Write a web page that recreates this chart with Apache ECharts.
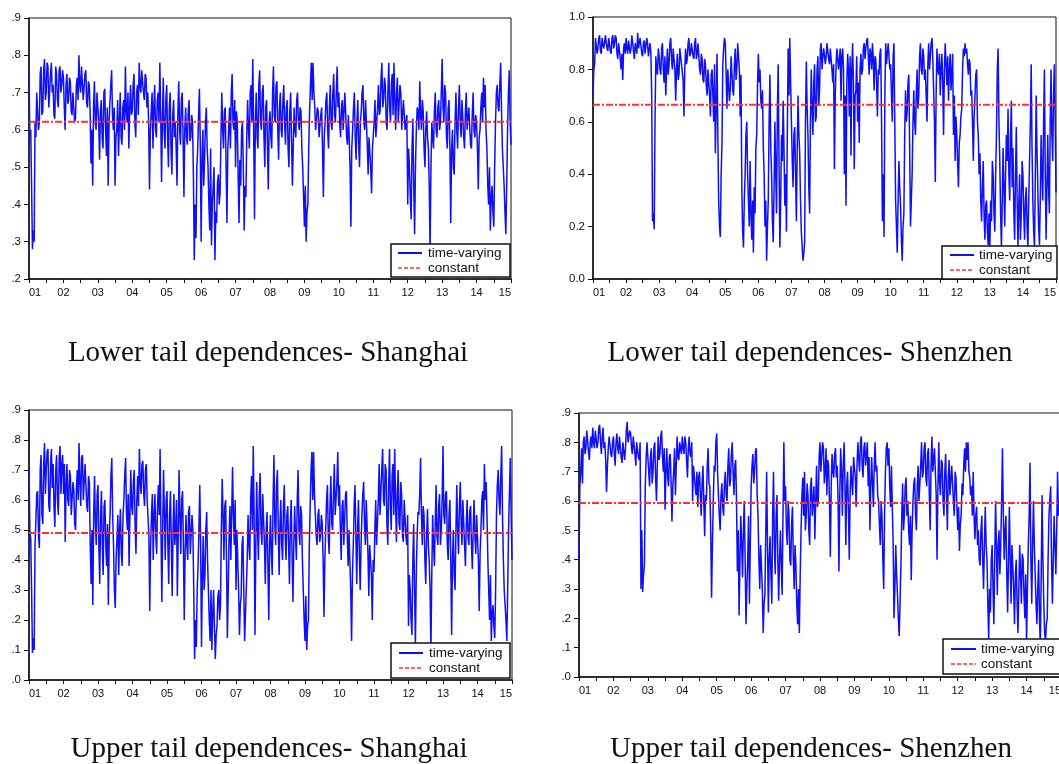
<!DOCTYPE html>
<html><head><meta charset="utf-8">
<script src="https://cdn.jsdelivr.net/npm/echarts@6/dist/echarts.min.js"></script>
<style>html,body{margin:0;padding:0;background:#fff}#c{width:1059px;height:764px}</style>
</head><body><div id="c"></div>
<script>
// time axis: values are sampled 40 times per year from 2001.0 to 2015.0
const startYear = 2001, endYear = 2015, perYear = 40;

const lowerShanghai = [
 .75,.58,.60,.45,.28,.33,.30,.62,.58,.70,.70,.60,.62,.75,.77,.64,.65,.76,.79,.68,
 .70,.78,.77,.66,.66,.75,.78,.70,.72,.64,.63,.77,.75,.68,.66,.76,.77,.70,.72,.76,
 .74,.66,.60,.72,.75,.67,.68,.74,.73,.65,.64,.70,.70,.62,.63,.72,.74,.68,.80,.72,
 .70,.77,.77,.68,.68,.75,.76,.67,.66,.73,.72,.65,.51,.60,.45,.66,.73,.62,.60,.70,
 .70,.62,.52,.65,.68,.58,.55,.70,.71,.60,.53,.66,.45,.62,.62,.72,.76,.64,.60,.66,
 .45,.58,.60,.68,.53,.62,.70,.58,.56,.66,.68,.60,.77,.65,.62,.70,.55,.66,.72,.64,
 .65,.72,.75,.62,.58,.70,.72,.64,.78,.72,.70,.76,.76,.70,.68,.75,.74,.66,.70,.62,
 .44,.60,.65,.70,.55,.66,.72,.60,.58,.68,.70,.62,.78,.64,.46,.62,.74,.60,.55,.68,
 .72,.58,.50,.66,.70,.55,.48,.64,.68,.58,.62,.55,.45,.65,.73,.60,.56,.68,.70,.58,
 .42,.60,.66,.58,.56,.65,.68,.57,.58,.64,.62,.48,.25,.40,.31,.50,.55,.64,.71,.56,
 .30,.52,.60,.45,.52,.62,.66,.55,.50,.40,.33,.55,.29,.40,.45,.50,.25,.38,.35,.46,
 .48,.40,.43,.58,.70,.60,.55,.65,.66,.50,.35,.55,.60,.66,.55,.70,.75,.62,.60,.68,
 .50,.65,.62,.48,.35,.52,.45,.60,.62,.50,.33,.45,.42,.58,.68,.60,.55,.70,.72,.62,
 .79,.60,.36,.62,.70,.58,.55,.72,.76,.62,.60,.70,.72,.58,.50,.66,.68,.56,.44,.62,
 .65,.58,.55,.70,.77,.64,.62,.72,.73,.60,.52,.66,.70,.60,.58,.68,.72,.62,.56,.66,
 .68,.55,.50,.65,.70,.58,.45,.55,.66,.60,.58,.68,.70,.62,.60,.66,.65,.55,.50,.42,
 .34,.45,.30,.38,.40,.55,.65,.72,.78,.68,.78,.70,.66,.60,.60,.66,.65,.58,.58,.64,
 .66,.55,.42,.58,.62,.68,.70,.60,.55,.66,.72,.62,.60,.70,.75,.64,.62,.70,.77,.66,
 .70,.62,.58,.66,.68,.60,.60,.70,.70,.58,.56,.64,.58,.50,.34,.55,.60,.66,.70,.58,
 .52,.62,.68,.56,.50,.62,.65,.70,.72,.62,.60,.68,.68,.56,.48,.58,.58,.50,.43,.55,
 .55,.62,.68,.58,.58,.66,.72,.64,.65,.74,.78,.66,.68,.74,.72,.62,.60,.70,.78,.66,
 .62,.72,.75,.64,.78,.68,.60,.70,.74,.62,.62,.72,.70,.60,.60,.68,.68,.60,.60,.64,
 .40,.55,.50,.42,.36,.55,.63,.45,.32,.50,.60,.66,.65,.60,.73,.64,.60,.68,.65,.55,
 .50,.60,.65,.58,.55,.45,.28,.50,.62,.58,.55,.65,.70,.60,.58,.66,.68,.60,.62,.70,
 .79,.66,.62,.72,.70,.58,.55,.66,.68,.55,.35,.55,.60,.50,.48,.62,.70,.60,.55,.66,
 .72,.62,.58,.68,.68,.58,.55,.65,.70,.60,.60,.66,.66,.56,.55,.64,.70,.60,.58,.64,
 .62,.55,.44,.58,.60,.66,.70,.62,.74,.66,.72,.60,.55,.45,.40,.50,.33,.42,.45,.38,
 .34,.50,.62,.70,.72,.66,.65,.72,.78,.65,.55,.50,.45,.38,.32,.45,.60,.70,.76,.62,
 .56
];
const lowerShenzhen = [
 .70,.80,.82,.92,.92,.86,.88,.92,.93,.87,.86,.92,.92,.88,.90,.93,.93,.88,.87,.92,
 .92,.87,.86,.92,.93,.88,.90,.93,.92,.86,.84,.90,.90,.84,.80,.86,.76,.88,.90,.86,
 .92,.88,.86,.91,.91,.86,.88,.93,.93,.87,.84,.90,.90,.86,.94,.88,.88,.92,.92,.86,
 .85,.90,.91,.86,.86,.92,.90,.85,.85,.90,.86,.70,.22,.25,.19,.60,.85,.80,.78,.88,
 .85,.80,.78,.88,.90,.80,.75,.85,.70,.80,.88,.78,.82,.90,.92,.84,.80,.88,.88,.80,
 .68,.80,.86,.76,.78,.88,.88,.82,.82,.76,.62,.80,.88,.82,.84,.90,.92,.85,.86,.90,
 .90,.85,.84,.90,.92,.84,.86,.90,.90,.80,.78,.86,.84,.76,.75,.84,.82,.74,.70,.80,
 .80,.70,.62,.78,.80,.70,.60,.82,.48,.65,.86,.55,.30,.20,.16,.40,.52,.82,.88,.92,
 .90,.78,.65,.80,.80,.68,.72,.85,.85,.72,.70,.82,.88,.76,.80,.90,.90,.80,.62,.78,
 .35,.18,.12,.30,.40,.55,.60,.40,.30,.20,.45,.25,.15,.30,.10,.35,.25,.50,.55,.74,
 .86,.75,.80,.68,.65,.72,.50,.40,.20,.30,.07,.20,.30,.60,.78,.50,.40,.22,.14,.35,
 .60,.40,.25,.65,.82,.45,.12,.30,.55,.45,.68,.50,.28,.40,.18,.55,.88,.70,.92,.75,
 .60,.45,.35,.55,.58,.40,.22,.50,.70,.55,.48,.30,.18,.12,.07,.10,.14,.60,.83,.65,
 .55,.35,.25,.60,.80,.65,.55,.75,.82,.60,.62,.80,.85,.66,.72,.88,.90,.80,.85,.88,
 .88,.82,.85,.90,.90,.84,.82,.88,.88,.80,.75,.82,.42,.70,.82,.88,.88,.80,.84,.88,
 .68,.85,.88,.80,.40,.70,.28,.75,.86,.80,.62,.85,.47,.80,.90,.75,.42,.70,.72,.85,
 .60,.75,.52,.80,.86,.78,.80,.88,.90,.84,.88,.91,.92,.85,.78,.88,.86,.80,.90,.84,
 .72,.85,.84,.75,.62,.80,.78,.86,.88,.60,.22,.40,.16,.70,.90,.82,.82,.90,.90,.80,
 .82,.70,.60,.85,.90,.60,.30,.20,.10,.30,.45,.35,.28,.15,.07,.20,.25,.55,.72,.60,
 .64,.75,.78,.50,.20,.30,.40,.60,.72,.60,.55,.70,.80,.65,.70,.85,.90,.80,.78,.88,
 .85,.76,.80,.70,.60,.82,.90,.80,.85,.90,.92,.84,.72,.60,.37,.70,.88,.80,.78,.86,
 .70,.80,.86,.75,.55,.80,.90,.82,.74,.85,.68,.80,.86,.72,.78,.86,.55,.70,.45,.62,
 .55,.45,.35,.52,.55,.62,.65,.80,.88,.85,.90,.86,.88,.82,.78,.84,.82,.70,.72,.60,
 .45,.62,.70,.78,.80,.60,.55,.40,.48,.30,.22,.35,.45,.25,.15,.28,.30,.18,.13,.25,
 .12,.30,.22,.45,.40,.25,.18,.40,.55,.80,.88,.60,.45,.25,.12,.30,.50,.35,.20,.40,
 .55,.45,.65,.40,.30,.55,.68,.35,.50,.25,.15,.40,.58,.30,.12,.28,.40,.15,.25,.45,
 .40,.25,.15,.30,.35,.20,.12,.30,.45,.60,.82,.50,.30,.18,.12,.40,.70,.50,.35,.20,
 .13,.30,.55,.40,.30,.60,.80,.40,.15,.35,.55,.35,.25,.60,.80,.55,.45,.70,.82,.60,
 .33
];
const upperShanghai = [
 .71,.50,.47,.30,.09,.14,.10,.45,.45,.62,.63,.48,.44,.70,.75,.55,.52,.72,.79,.62,
 .70,.76,.77,.58,.56,.72,.77,.64,.72,.58,.51,.70,.75,.60,.55,.74,.78,.62,.72,.75,
 .62,.72,.46,.65,.72,.60,.58,.70,.68,.55,.55,.66,.63,.52,.50,.64,.70,.60,.79,.66,
 .58,.74,.75,.60,.60,.72,.72,.58,.56,.68,.66,.45,.32,.50,.25,.55,.68,.52,.45,.62,
 .65,.45,.32,.55,.63,.45,.35,.58,.60,.45,.38,.52,.25,.48,.55,.68,.74,.55,.45,.30,
 .24,.40,.47,.55,.35,.50,.57,.42,.38,.55,.60,.68,.74,.56,.50,.62,.38,.55,.70,.58,
 .55,.66,.70,.52,.42,.60,.68,.58,.77,.66,.62,.72,.73,.62,.58,.70,.72,.60,.60,.48,
 .23,.45,.55,.62,.40,.55,.62,.48,.42,.58,.65,.55,.77,.50,.26,.50,.70,.55,.40,.60,
 .63,.45,.32,.55,.63,.45,.28,.50,.62,.45,.50,.60,.28,.48,.70,.55,.42,.60,.63,.45,
 .20,.42,.55,.45,.40,.56,.58,.42,.42,.55,.50,.30,.07,.20,.11,.30,.38,.50,.65,.45,
 .11,.35,.48,.30,.35,.50,.56,.40,.30,.20,.13,.30,.10,.22,.30,.18,.07,.15,.18,.28,
 .30,.20,.25,.50,.67,.55,.40,.58,.60,.40,.14,.30,.48,.58,.40,.55,.71,.55,.45,.60,
 .30,.50,.50,.30,.15,.25,.28,.45,.48,.30,.13,.22,.22,.40,.55,.45,.40,.60,.68,.50,
 .78,.55,.15,.45,.66,.50,.40,.62,.69,.50,.45,.62,.62,.45,.32,.50,.56,.38,.20,.45,
 .55,.42,.35,.60,.75,.52,.45,.65,.70,.50,.35,.52,.60,.45,.40,.58,.65,.48,.40,.55,
 .58,.45,.32,.52,.60,.42,.26,.45,.58,.48,.40,.60,.70,.50,.45,.58,.55,.40,.30,.20,
 .13,.28,.10,.18,.20,.45,.58,.70,.76,.60,.76,.62,.55,.48,.45,.55,.57,.46,.48,.55,
 .52,.40,.21,.40,.50,.60,.65,.48,.42,.58,.68,.52,.50,.62,.72,.55,.55,.66,.76,.58,
 .65,.50,.40,.58,.60,.45,.45,.62,.63,.48,.38,.50,.40,.30,.13,.35,.45,.58,.65,.48,
 .32,.50,.60,.42,.30,.45,.55,.62,.66,.52,.45,.60,.60,.42,.28,.45,.45,.35,.20,.40,
 .36,.50,.60,.45,.45,.60,.72,.55,.55,.70,.77,.60,.58,.72,.70,.52,.45,.65,.77,.58,
 .50,.68,.72,.55,.77,.60,.46,.62,.70,.52,.50,.66,.62,.48,.46,.60,.60,.48,.45,.55,
 .18,.35,.30,.20,.15,.40,.52,.30,.12,.35,.48,.56,.55,.62,.74,.55,.45,.58,.55,.40,
 .32,.48,.57,.45,.40,.30,.10,.35,.55,.45,.38,.52,.65,.48,.45,.58,.62,.45,.50,.60,
 .78,.55,.52,.62,.63,.45,.40,.55,.60,.40,.15,.40,.50,.35,.30,.50,.65,.50,.42,.58,
 .66,.52,.45,.60,.60,.45,.38,.52,.60,.48,.45,.56,.58,.45,.37,.50,.60,.48,.42,.55,
 .55,.40,.23,.42,.50,.60,.63,.50,.72,.60,.66,.55,.40,.30,.20,.35,.13,.22,.25,.18,
 .14,.30,.55,.65,.70,.60,.55,.68,.78,.55,.40,.30,.30,.20,.13,.30,.50,.62,.74,.55,
 .40
];
const upperShenzhen = [
 .40,.65,.70,.78,.66,.80,.82,.76,.78,.84,.84,.77,.74,.80,.82,.78,.85,.80,.78,.84,
 .84,.78,.80,.85,.86,.80,.76,.82,.85,.78,.80,.74,.63,.72,.78,.82,.82,.76,.75,.80,
 .82,.76,.72,.80,.83,.78,.76,.82,.82,.75,.73,.80,.80,.74,.78,.84,.87,.80,.80,.84,
 .83,.78,.76,.82,.82,.76,.72,.80,.80,.75,.74,.80,.30,.50,.29,.35,.38,.65,.75,.80,
 .80,.70,.65,.75,.78,.66,.70,.78,.80,.68,.60,.72,.82,.74,.76,.82,.84,.75,.70,.78,
 .57,.70,.78,.68,.65,.75,.76,.66,.53,.65,.70,.78,.62,.72,.82,.75,.74,.80,.80,.76,
 .82,.78,.76,.82,.80,.74,.68,.78,.82,.76,.75,.80,.60,.72,.72,.65,.62,.70,.58,.68,
 .70,.62,.55,.66,.72,.60,.48,.62,.60,.72,.78,.66,.65,.50,.27,.45,.60,.72,.70,.80,
 .83,.70,.62,.55,.50,.62,.66,.58,.55,.66,.70,.62,.60,.72,.78,.65,.67,.76,.80,.70,
 .62,.72,.74,.60,.36,.50,.21,.40,.55,.45,.34,.50,.60,.40,.18,.30,.40,.55,.25,.45,
 .65,.72,.76,.66,.70,.77,.78,.62,.55,.40,.30,.45,.45,.30,.15,.25,.28,.50,.70,.45,
 .22,.40,.48,.35,.25,.55,.70,.45,.35,.55,.62,.40,.26,.40,.50,.38,.28,.55,.80,.60,
 .65,.50,.45,.60,.55,.40,.38,.52,.58,.40,.30,.45,.38,.25,.18,.30,.15,.35,.50,.62,
 .68,.55,.70,.50,.55,.66,.62,.50,.45,.65,.68,.55,.55,.65,.47,.60,.72,.58,.60,.75,
 .80,.70,.75,.80,.78,.66,.70,.78,.62,.74,.72,.60,.41,.65,.76,.70,.68,.76,.78,.68,
 .72,.60,.36,.62,.78,.70,.55,.72,.80,.66,.45,.65,.70,.58,.40,.62,.72,.66,.62,.75,
 .75,.68,.58,.72,.80,.74,.70,.80,.82,.72,.68,.78,.80,.72,.72,.80,.65,.75,.50,.65,
 .75,.66,.58,.72,.80,.70,.72,.62,.60,.52,.45,.60,.55,.40,.30,.55,.70,.78,.80,.72,
 .78,.65,.58,.72,.72,.45,.20,.30,.45,.35,.28,.20,.14,.25,.38,.55,.66,.50,.55,.65,
 .68,.55,.60,.50,.45,.55,.33,.50,.60,.66,.68,.55,.50,.65,.72,.60,.60,.72,.80,.68,
 .70,.78,.80,.68,.65,.76,.78,.62,.50,.72,.82,.70,.70,.78,.78,.62,.40,.65,.80,.66,
 .62,.74,.73,.60,.55,.70,.76,.62,.50,.68,.74,.62,.62,.72,.72,.60,.55,.70,.68,.58,
 .50,.58,.43,.52,.55,.66,.62,.72,.78,.70,.80,.74,.80,.70,.68,.62,.65,.55,.70,.55,
 .47,.55,.58,.45,.50,.40,.38,.50,.55,.40,.30,.45,.58,.45,.40,.25,.13,.30,.22,.40,
 .45,.30,.18,.40,.60,.45,.28,.45,.50,.35,.45,.60,.78,.55,.40,.50,.55,.35,.22,.40,
 .58,.40,.25,.45,.45,.30,.18,.35,.40,.25,.15,.30,.45,.35,.25,.42,.40,.28,.20,.35,
 .12,.30,.45,.55,.73,.40,.25,.45,.60,.45,.35,.25,.18,.30,.40,.20,.10,.35,.62,.40,
 .25,.15,.12,.18,.20,.40,.55,.60,.65,.40,.25,.40,.55,.45,.35,.50,.70,.55,.60,.50,
 .65
];

const constLowerShanghai = 0.622;
const constLowerShenzhen = 0.665;
const constUpperShanghai = 0.490;
const constUpperShenzhen = 0.593;

const titleTexts = [
 'Lower tail dependences- Shanghai',
 'Lower tail dependences- Shenzhen',
 'Upper tail dependences- Shanghai',
 'Upper tail dependences- Shenzhen'
];
const legendNames = ['time-varying', 'constant'];

const panels = [
 {data: lowerShanghai, c: constLowerShanghai, grid: {left: 29, top: 18, width: 482, height: 261},
  y: [0.2, 0.9, 0.1], fmt: v => v.toFixed(1).replace(/^0/, ''),
  legend: {box: [391, 244, 119, 33], line: [398, 422], text: 428, rows: [253, 268]}, title: [268, 353]},
 {data: lowerShenzhen, c: constLowerShenzhen, grid: {left: 593, top: 17, width: 463, height: 262},
  y: [0, 1.0, 0.2], fmt: v => v.toFixed(1),
  legend: {box: [942, 246, 115, 33], line: [950, 974], text: 979, rows: [255, 270]}, title: [810, 353]},
 {data: upperShanghai, c: constUpperShanghai, grid: {left: 29, top: 410, width: 483, height: 270},
  y: [0, 0.9, 0.1], fmt: v => v.toFixed(1).replace(/^0/, ''),
  legend: {box: [391, 643, 119, 35], line: [399, 423], text: 429, rows: [653, 668]}, title: [269, 749]},
 {data: upperShenzhen, c: constUpperShenzhen, grid: {left: 579, top: 413, width: 482, height: 264},
  y: [0, 0.9, 0.1], fmt: v => v.toFixed(1).replace(/^0/, ''),
  legend: {box: [943, 639, 125, 35], line: [951, 976], text: 981, rows: [649, 664]}, title: [811, 749]}
];

const blue = '#1010f5', red = '#ff3030';
const axisFont = {fontFamily: 'Arial, "Liberation Sans", sans-serif', fontSize: 11, color: '#111'};
const legendFont = '13.5px Arial, "Liberation Sans", sans-serif';

function legendGraphic(p) {
  const L = p.legend;
  return [
    {type: 'rect', z: 100, shape: {x: L.box[0], y: L.box[1], width: L.box[2], height: L.box[3]},
     style: {fill: '#fff', stroke: '#111', lineWidth: 1.5}},
    {type: 'line', z: 101, shape: {x1: L.line[0], y1: L.rows[0], x2: L.line[1], y2: L.rows[0]},
     style: {stroke: blue, lineWidth: 2}},
    {type: 'line', z: 101, shape: {x1: L.line[0], y1: L.rows[1], x2: L.line[1], y2: L.rows[1]},
     style: {stroke: red, lineWidth: 1.5, lineDash: [4, 2]}},
    {type: 'text', z: 101, x: L.text, y: L.rows[0],
     style: {text: legendNames[0], font: legendFont, fill: '#111', textVerticalAlign: 'middle'}},
    {type: 'text', z: 101, x: L.text, y: L.rows[1],
     style: {text: legendNames[1], font: legendFont, fill: '#111', textVerticalAlign: 'middle'}}
  ];
}

const option = {
  animation: false,
  backgroundColor: '#fff',
  grid: panels.map(p => Object.assign({show: true, borderColor: '#111', borderWidth: 1,
    backgroundColor: '#fff', containLabel: false, outerBoundsMode: 'none'}, p.grid)),
  xAxis: panels.map((p, i) => ({
    type: 'value', gridIndex: i, min: startYear, max: endYear, interval: 0.5,
    axisLine: {lineStyle: {color: '#111', width: 1.5}},
    axisTick: {show: true, length: 4, lineStyle: {color: '#111', width: 1}},
    splitLine: {show: false},
    axisLabel: Object.assign({margin: 8, showMinLabel: true, showMaxLabel: true,
      alignMinLabel: 'left', alignMaxLabel: 'right', hideOverlap: false,
      formatter: v => Math.abs(v - Math.round(v)) < 1e-6 ? String(Math.round(v) % 100).padStart(2, '0') : ''}, axisFont)
  })),
  yAxis: panels.map((p, i) => ({
    type: 'value', gridIndex: i, min: p.y[0], max: p.y[1], interval: p.y[2],
    axisLine: {show: true, lineStyle: {color: '#111', width: 1.5}},
    axisTick: {show: true, length: 5, lineStyle: {color: '#111', width: 1}},
    splitLine: {show: false},
    axisLabel: Object.assign({margin: 8, formatter: p.fmt}, axisFont, {fontSize: 11.5})
  })),
  series: panels.flatMap((p, i) => [
    {
      name: legendNames[0], type: 'line', xAxisIndex: i, yAxisIndex: i,
      symbol: 'none', z: 2, color: blue,
      lineStyle: {color: blue, width: 1.5},
      data: p.data.map((v, k) => [startYear + k / perYear, v])
    },
    {
      name: legendNames[1], type: 'line', xAxisIndex: i, yAxisIndex: i,
      symbol: 'none', z: 3, color: red,
      lineStyle: {color: red, width: 2, type: [7, 2, 2, 2]},
      data: [[startYear, p.c], [endYear, p.c]]
    }
  ]),
  graphic: [].concat(
    panels.map((p, i) => ({
      type: 'text', x: p.title[0], y: p.title[1],
      style: {text: titleTexts[i], font: '29px "Liberation Serif", "Times New Roman", serif',
        fill: '#111', textAlign: 'center', textVerticalAlign: 'middle'}
    })),
    ...panels.map(legendGraphic)
  )
};

const chart = echarts.init(document.getElementById('c'), null, {renderer: 'canvas'});
chart.setOption(option);
</script>
</body></html>
